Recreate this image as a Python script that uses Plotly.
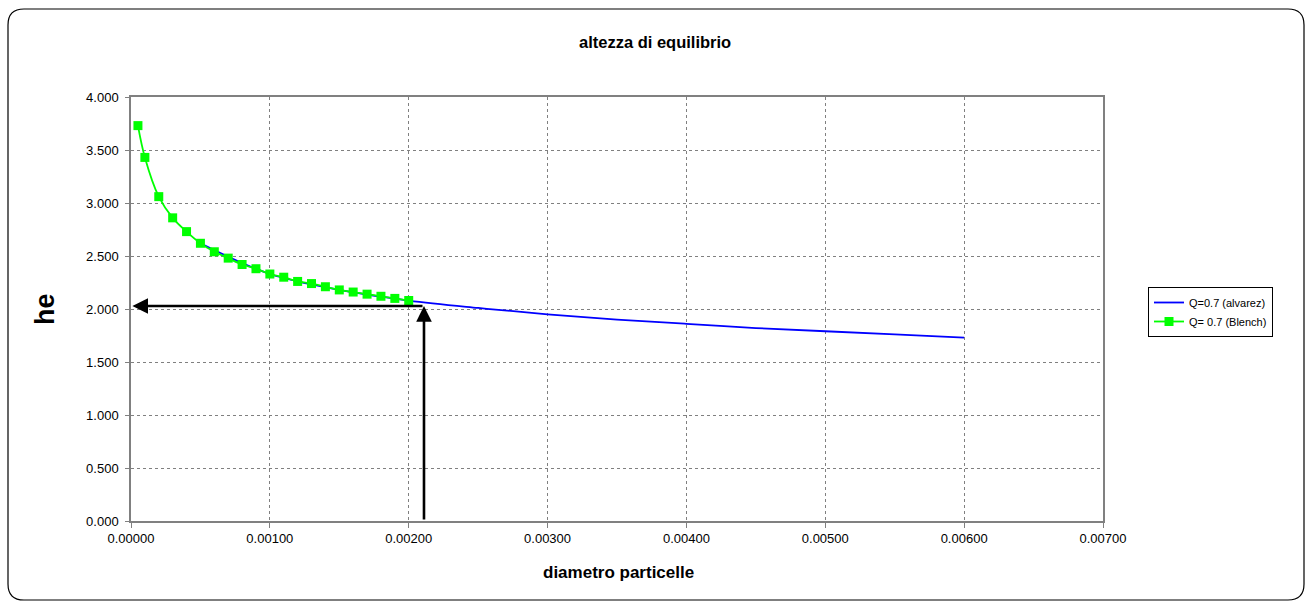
import plotly.graph_objects as go

# Data
blench_x = [0.00005, 0.0001, 0.0002, 0.0003, 0.0004, 0.0005, 0.0006, 0.0007, 0.0008, 0.0009,
            0.0010, 0.0011, 0.0012, 0.0013, 0.0014, 0.0015, 0.0016, 0.0017, 0.0018, 0.0019, 0.0020]
blench_y = [3.73, 3.43, 3.06, 2.86, 2.73, 2.62, 2.54, 2.48, 2.42, 2.38,
            2.33, 2.30, 2.26, 2.24, 2.21, 2.18, 2.16, 2.14, 2.12, 2.10, 2.08]
alvarez_x = [0.0005, 0.0010, 0.0015, 0.0020, 0.0025, 0.0030, 0.0035, 0.0040, 0.0045, 0.0050, 0.0055, 0.0060]
alvarez_y = [2.62, 2.33, 2.18, 2.08, 2.01, 1.95, 1.90, 1.86, 1.82, 1.79, 1.76, 1.73]
arrow_x = 0.00211
arrow_y = 2.028
x_ticks = [0, 0.001, 0.002, 0.003, 0.004, 0.005, 0.006, 0.007]
y_ticks = [0, 0.5, 1.0, 1.5, 2.0, 2.5, 3.0, 3.5, 4.0]

W, H = 1307, 604
L, R, T, B = 131, 1103, 97, 521

def px(x):
    return (x - L) / (R - L)

def py(y):
    return (B - y) / (B - T)

FONT = "Liberation Sans, Arial, sans-serif"

fig = go.Figure()
fig.add_trace(go.Scatter(
    x=alvarez_x, y=alvarez_y, mode="lines", name="Q=0.7 (alvarez)",
    line=dict(color="#0000FF", width=1.8, shape="spline"),
))
fig.add_trace(go.Scatter(
    x=blench_x, y=blench_y, mode="lines+markers", name="Q= 0.7 (Blench)",
    line=dict(color="#00FF00", width=1.8, shape="spline"),
    marker=dict(symbol="square", size=9, color="#00FF00"),
))

# rounded outer border
x0, x1, y0, y1, r = 8, 1304, 9, 600, 16
path = (
    f"M {px(x0+r)},{py(y0)} L {px(x1-r)},{py(y0)} Q {px(x1)},{py(y0)} {px(x1)},{py(y0+r)} "
    f"L {px(x1)},{py(y1-r)} Q {px(x1)},{py(y1)} {px(x1-r)},{py(y1)} "
    f"L {px(x0+r)},{py(y1)} Q {px(x0)},{py(y1)} {px(x0)},{py(y1-r)} "
    f"L {px(x0)},{py(y0+r)} Q {px(x0)},{py(y0)} {px(x0+r)},{py(y0)} Z"
)
shapes = [dict(type="path", xref="paper", yref="paper", path=path,
               line=dict(color="#000000", width=1.2), layer="below")]

annotations = [
    dict(x=0.00001, y=arrow_y, ax=arrow_x, ay=arrow_y, xref="x", yref="y", axref="x", ayref="y",
         showarrow=True, arrowhead=2, arrowsize=1.2, arrowwidth=2.6, arrowcolor="#000000", text=""),
    dict(x=arrow_x, y=arrow_y, ax=arrow_x, ay=0, xref="x", yref="y", axref="x", ayref="y",
         showarrow=True, arrowhead=2, arrowsize=1.2, arrowwidth=2.6, arrowcolor="#000000", text=""),
    dict(text="<b>altezza di equilibrio</b>", x=px(655), y=py(42), xref="paper", yref="paper",
         xanchor="center", yanchor="middle",
         showarrow=False, font=dict(size=16.5, color="#000000", family=FONT)),
    dict(text="<b>diametro particelle</b>", x=px(618), y=py(572), xref="paper", yref="paper",
         xanchor="center", yanchor="middle",
         showarrow=False, font=dict(size=17, color="#000000", family=FONT)),
    dict(text="<b>he</b>", x=px(45), y=py(309), xref="paper", yref="paper", textangle=-90,
         xanchor="center", yanchor="middle",
         showarrow=False, font=dict(size=27, color="#000000", family=FONT)),
]

fig.update_layout(
    width=W, height=H,
    margin=dict(l=L, r=W - R, t=T, b=H - B),
    paper_bgcolor="#FFFFFF", plot_bgcolor="#FFFFFF",
    font=dict(family=FONT, size=13, color="#000000"),
    shapes=shapes,
    annotations=annotations,
    showlegend=True,
    legend=dict(x=px(1148), y=py(287), xanchor="left", yanchor="top",
                bordercolor="#000000", borderwidth=1, bgcolor="#FFFFFF",
                font=dict(size=11, family=FONT), tracegroupgap=4,
                itemwidth=30),
)
fig.update_xaxes(
    range=[0, 0.007], tickvals=x_ticks, tickformat=".5f",
    showgrid=True, gridcolor="#808080", griddash="dot", gridwidth=1,
    showline=True, linecolor="#808080", linewidth=1.5, mirror=True,
    ticks="outside", ticklen=5, tickcolor="#808080", zeroline=False,
    tickfont=dict(size=13),
)
fig.update_yaxes(
    range=[0, 4.0], tickvals=y_ticks, tickformat=".3f",
    showgrid=True, gridcolor="#808080", griddash="dot", gridwidth=1,
    showline=True, linecolor="#808080", linewidth=1.5, mirror=True,
    ticks="outside", ticklen=4, tickcolor="#808080", zeroline=False,
    ticklabelstandoff=4,
    tickfont=dict(size=13),
)

fig.write_html("out.html")
